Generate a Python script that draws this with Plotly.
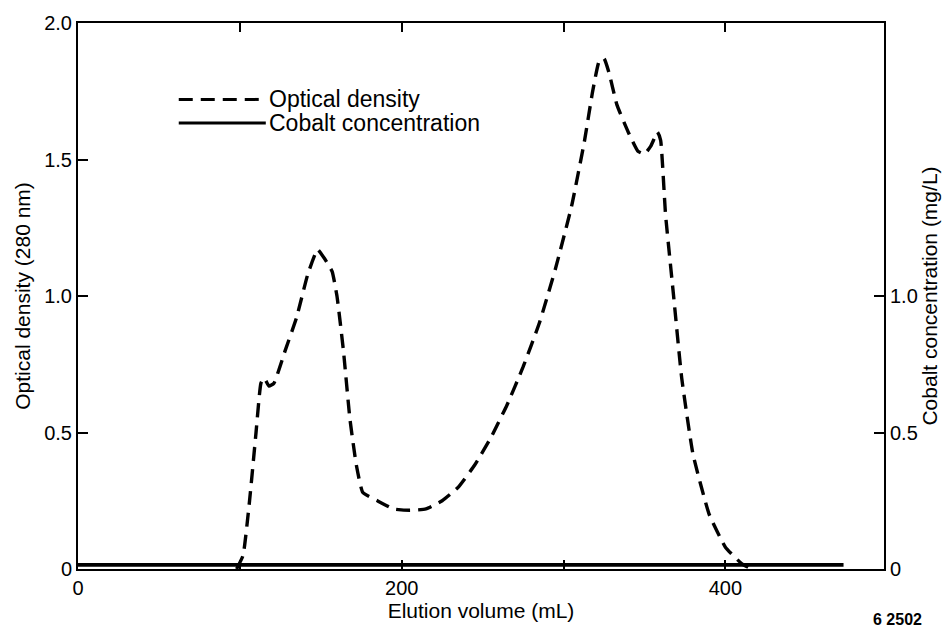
import plotly.graph_objects as go

# Data
elution_ml = [98, 102, 106, 110, 113, 115, 118, 121, 128, 135, 142, 148, 152, 157, 160,
              164, 168, 172, 176, 185, 195, 205, 215, 225, 235, 245, 255, 265, 275, 285,
              295, 305, 313, 318, 322, 325, 328, 333, 340, 346, 350, 354, 358, 360, 363,
              368, 373, 380, 390, 400, 410, 416]
optical_density = [0.0, 0.05, 0.25, 0.5, 0.68, 0.70, 0.67, 0.68, 0.80, 0.92, 1.08, 1.17, 1.14, 1.09, 1.0,
                   0.8, 0.55, 0.38, 0.28, 0.25, 0.22, 0.215, 0.22, 0.25, 0.30, 0.38, 0.48, 0.60, 0.74, 0.90,
                   1.10, 1.33, 1.57, 1.75, 1.86, 1.87, 1.82, 1.70, 1.60, 1.53, 1.52, 1.55, 1.60, 1.57, 1.30,
                   1.0, 0.70, 0.42, 0.20, 0.08, 0.02, 0.0]
cobalt_ml = [0, 473]
cobalt_conc = [0.015, 0.015]

x_tickvals = [0, 100, 200, 300, 400]
x_ticktext = ["0", "", "200", "", "400"]
y_tickvals = [0, 0.5, 1.0, 1.5, 2.0]
y_ticktext = ["0", "0.5", "1.0", "1.5", "2.0"]
y2_tickvals = [0, 0.5, 1.0]
y2_ticktext = ["0", "0.5", "1.0"]

FONT = "Liberation Sans, Arial, sans-serif"
TICK = 20
TITLE = 21
LEG = 23

fig = go.Figure()
fig.add_trace(go.Scatter(x=elution_ml, y=optical_density, mode="lines", name="Optical density",
                         line=dict(color="black", width=3.4, dash="14px,8px", shape="spline", smoothing=0.4),
                         showlegend=False))
fig.add_trace(go.Scatter(x=cobalt_ml, y=cobalt_conc, mode="lines", name="Cobalt concentration",
                         line=dict(color="black", width=3.8), yaxis="y2", showlegend=False))

fig.update_layout(
    width=949, height=632,
    margin=dict(l=78, r=61, t=17, b=63),
    paper_bgcolor="white", plot_bgcolor="white",
    font=dict(family=FONT, size=TICK, color="black"),
    xaxis=dict(range=[0, 498], tickvals=x_tickvals, ticktext=x_ticktext,
               showline=True, linecolor="black", linewidth=2, mirror="ticks",
               ticks="inside", ticklen=9, tickwidth=1.5, tickcolor="black",
               showgrid=False, zeroline=False, tickfont=dict(size=TICK),
               title=dict(text="Elution volume (mL)", standoff=0, font=dict(size=TITLE))),
    yaxis=dict(range=[0, 2.0], tickvals=y_tickvals, ticktext=y_ticktext,
               showline=True, linecolor="black", linewidth=2,
               ticks="inside", ticklen=10, tickwidth=1.5, tickcolor="black",
               showgrid=False, zeroline=False, tickfont=dict(size=TICK),
               title=dict(text="Optical density (280 nm)", standoff=8, font=dict(size=TITLE))),
    yaxis2=dict(range=[0, 2.0], overlaying="y", side="right",
                tickvals=y2_tickvals, ticktext=y2_ticktext,
                showline=True, linecolor="black", linewidth=2,
                ticks="inside", ticklen=10, tickwidth=1.5, tickcolor="black",
                showgrid=False, zeroline=False, tickfont=dict(size=TICK),
                title=dict(text="Cobalt concentration (mg/L)", standoff=4, font=dict(size=TITLE))),
)

# Legend drawn as line samples + labels
legend_items = [("Optical density", "14px,8px"), ("Cobalt concentration", "solid")]
leg_y = [0.860, 0.817]
for (label, dash), yy in zip(legend_items, leg_y):
    fig.add_shape(type="line", xref="paper", yref="paper", x0=0.125, x1=0.233, y0=yy, y1=yy,
                  line=dict(color="black", width=3, dash=dash))
    fig.add_annotation(xref="paper", yref="paper", x=0.235, y=yy, text=label, showarrow=False,
                       xanchor="left", yanchor="middle", font=dict(size=LEG))

fig.add_annotation(xref="paper", yref="paper", x=1.05, y=-0.112, text="<b>6 2502</b>",
                   showarrow=False, xanchor="right", yanchor="bottom", font=dict(size=16))

fig.write_html("out.html")
